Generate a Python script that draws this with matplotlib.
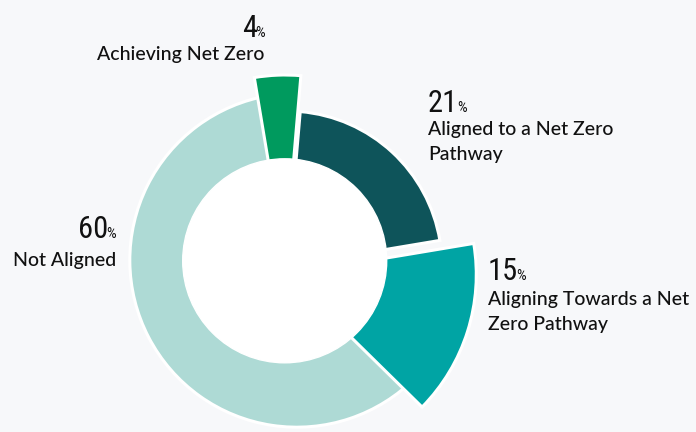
import matplotlib
matplotlib.use('Agg')
import matplotlib.pyplot as plt
from matplotlib import font_manager as fm

# data
values = [4, 21, 15, 60]
labels = ['Achieving Net Zero', 'Aligned to a Net Zero\nPathway',
          'Aligning Towards a Net\nZero Pathway', 'Not Aligned']
colors = ['#009a5e', '#0e545a', '#00a4a4', '#aedad5']

bg = '#f7f8fa'

# wedge geometry, pixel coords (y down), fitted by eye to the reference
centers = [(285, 261), (287, 266), (287.3, 274.6), (296.8, 260.2)]
radii = [186, 155, 189, 167]
zorders = [2, 2, 2, 1]
hole_center = (284.7, 260.8)
hole_r = 102

# text anchors: x, baseline y, alignment
num_pos = [(265, 37, 'right'), (428, 112, 'left'), (488, 280, 'left'), (116, 237.5, 'right')]
lab_pos = [(264, 60, 'right'), (428, 135, 'left'), (488, 305, 'left'), (116, 266, 'right')]
line_gap = 25

names = {f.name for f in fm.fontManager.ttflist}

def pick(cands):
    for c in cands:
        if c in names:
            return c
    return 'DejaVu Sans'

num_font = pick(['Liberation Sans Narrow', 'Roboto Condensed', 'DejaVu Sans Condensed',
                 'Open Sans Condensed', 'Noto Sans Condensed'])
lab_font = pick(['Lato', 'Noto Sans', 'Open Sans'])

fig = plt.figure(figsize=(6.96, 4.32), dpi=100, facecolor=bg)
ax = fig.add_axes([0, 0, 1, 1])
ax.set_facecolor(bg)

wedges, _ = ax.pie(values, colors=colors, startangle=-99.5, counterclock=True,
                   frame=True, wedgeprops=dict(edgecolor='white', linewidth=2.2))
for w, c, r, z in zip(wedges, centers, radii, zorders):
    w.set_center(c)
    w.set_radius(r)
    w.set_zorder(z)

ax.add_patch(plt.Circle(hole_center, hole_r, color='white', zorder=3))

ax.set_xlim(0, 696)
ax.set_ylim(432, 0)
ax.set_aspect('equal')
ax.axis('off')

renderer = fig.canvas.get_renderer()
inv = ax.transData.inverted()
ink = '#111111'

for v, lab, (x, y, ha), (lx, ly, lha) in zip(values, labels, num_pos, lab_pos):
    if ha == 'left':
        t = ax.text(x, y, str(v), fontsize=22, family=num_font,
                    ha='left', va='baseline', color=ink)
        bb = t.get_window_extent(renderer).transformed(inv)
        ax.text(bb.x1 - 1.5, y, '%', fontsize=11, family=num_font, ha='left', va='baseline', color=ink)
    else:
        p = ax.text(x, y, '%', fontsize=11, family=num_font, ha='right', va='baseline', color=ink)
        bb = p.get_window_extent(renderer).transformed(inv)
        ax.text(bb.x0 + 1.5, y, str(v), fontsize=22, family=num_font,
                ha='right', va='baseline', color=ink)
    for k, line in enumerate(lab.split('\n')):
        ax.text(lx, ly + k * line_gap, line, fontsize=14, family=lab_font, weight='medium',
                ha=lha, va='baseline', color=ink)

fig.savefig('out.png', dpi=100, facecolor=bg)
